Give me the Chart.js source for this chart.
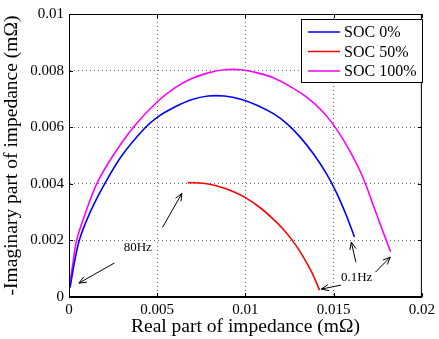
<!DOCTYPE html>
<html>
<head>
<meta charset="utf-8">
<script src="https://cdn.jsdelivr.net/npm/chart.js@4/dist/chart.umd.min.js"></script>
<style>
  html, body { margin: 0; padding: 0; background: #fff; }
  #wrap { width: 439px; height: 339px; }
</style>
</head>
<body>
<div id="wrap"><canvas id="nyquist"></canvas></div>
<script>
// real part (mΩ) and -imaginary part (mΩ)
const soc0Re = [0.00006, 0.0003, 0.00058, 0.0012, 0.00202, 0.0030, 0.0043, 0.0050, 0.00602, 0.00694, 0.00788, 0.00881, 0.00974, 0.01068, 0.01161, 0.01236, 0.0131, 0.01385, 0.01459, 0.01515, 0.01571, 0.01618];
const soc0Im = [0.00033, 0.0012, 0.0020, 0.0030, 0.0040, 0.0050, 0.00597, 0.00635, 0.00672, 0.00697, 0.0071, 0.0071, 0.00699, 0.00677, 0.00647, 0.00612, 0.00565, 0.00506, 0.00436, 0.0037, 0.0029, 0.00212];

const soc50Re = [0.00672, 0.00761, 0.00835, 0.00929, 0.0100, 0.01078, 0.01153, 0.01209, 0.01265, 0.01321, 0.01377, 0.0142];
const soc50Im = [0.00404, 0.00402, 0.00393, 0.00373, 0.00351, 0.00318, 0.00278, 0.00243, 0.00201, 0.00149, 0.00086, 0.00024];

const soc100Re = [0.00006, 0.0002, 0.00043, 0.00095, 0.00157, 0.0025, 0.00365, 0.0050, 0.00602, 0.00696, 0.00789, 0.00881, 0.00974, 0.01068, 0.01161, 0.0125, 0.01347, 0.01441, 0.01515, 0.0159, 0.01665, 0.01721, 0.01777, 0.01823];
const soc100Im = [0.00052, 0.0011, 0.0020, 0.0030, 0.0040, 0.0050, 0.0060, 0.0069, 0.0074, 0.00772, 0.00792, 0.00803, 0.00803, 0.00792, 0.00774, 0.00745, 0.00706, 0.00653, 0.00594, 0.00518, 0.00424, 0.0033, 0.00235, 0.0016];

const xTicks = [0, 0.005, 0.01, 0.015, 0.02];
const yTicks = [0, 0.002, 0.004, 0.006, 0.008, 0.01];

const seriesNames = ['SOC 0%', 'SOC 50%', 'SOC 100%'];
const seriesColors = ['#0000ff', '#ff0000', '#ff00ff'];

// annotation arrows [fromX, fromY, toX, toY] in data units
const arrows = [
  [0.00257, 0.0012, 0.00056, 0.00049],
  [0.0053, 0.00246, 0.0064, 0.00366],
  [0.01626, 0.00123, 0.0160, 0.00194],
  [0.01542, 0.00042, 0.0143, 0.00028],
  [0.01737, 0.00088, 0.01821, 0.00141]
];
const notes = [
  { text: '80Hz', x: 0.0039, y: 0.00173 },
  { text: '0.1Hz', x: 0.0163, y: 0.0007 }
];

const serif = '"Liberation Serif", "Times New Roman", serif';

const toPoints = (re, im) => re.map((x, i) => ({ x: x, y: im[i] }));
const fmt = (v) => (v === 0 ? '0' : String(parseFloat(v.toFixed(3))));

const decorations = {
  id: 'decorations',
  afterDraw(chart) {
    const { ctx, chartArea: a, scales: { x, y } } = chart;
    ctx.save();
    // box + inner tick marks
    ctx.strokeStyle = '#000';
    ctx.lineWidth = 1;
    ctx.strokeRect(a.left + 0.5, a.top + 0.5, a.right - a.left - 1, a.bottom - a.top - 1);
    ctx.beginPath();
    xTicks.forEach(v => {
      const px = Math.round(x.getPixelForValue(v)) + 0.5;
      ctx.moveTo(px, a.bottom); ctx.lineTo(px, a.bottom - 4);
      ctx.moveTo(px, a.top); ctx.lineTo(px, a.top + 4);
    });
    yTicks.forEach(v => {
      const py = Math.round(y.getPixelForValue(v)) + 0.5;
      ctx.moveTo(a.left, py); ctx.lineTo(a.left + 4, py);
      ctx.moveTo(a.right, py); ctx.lineTo(a.right - 4, py);
    });
    ctx.stroke();

    // arrows
    arrows.forEach(([x0, y0, x1, y1]) => {
      const px0 = x.getPixelForValue(x0), py0 = y.getPixelForValue(y0);
      const px1 = x.getPixelForValue(x1), py1 = y.getPixelForValue(y1);
      const ang = Math.atan2(py1 - py0, px1 - px0);
      ctx.beginPath();
      ctx.moveTo(px0, py0);
      ctx.lineTo(px1, py1);
      ctx.moveTo(px1 - 8 * Math.cos(ang - 0.4), py1 - 8 * Math.sin(ang - 0.4));
      ctx.lineTo(px1, py1);
      ctx.lineTo(px1 - 8 * Math.cos(ang + 0.4), py1 - 8 * Math.sin(ang + 0.4));
      ctx.stroke();
    });

    ctx.fillStyle = '#000';
    ctx.font = '13px ' + serif;
    ctx.textAlign = 'center';
    ctx.textBaseline = 'middle';
    notes.forEach(n => {
      ctx.fillText(n.text, x.getPixelForValue(n.x), y.getPixelForValue(n.y));
    });

    // legend box
    const lx = 301, ly = 19, lw = 121, lh = 63;
    ctx.fillStyle = '#fff';
    ctx.fillRect(lx, ly, lw, lh);
    ctx.strokeStyle = '#000';
    ctx.strokeRect(lx + 0.5, ly + 0.5, lw, lh);
    ctx.font = '16px ' + serif;
    ctx.textAlign = 'left';
    seriesNames.forEach((name, i) => {
      const ry = 32 + i * 19.5;
      ctx.strokeStyle = seriesColors[i];
      ctx.lineWidth = 1.5;
      ctx.beginPath();
      ctx.moveTo(308, ry);
      ctx.lineTo(340, ry);
      ctx.stroke();
      ctx.fillStyle = '#000';
      ctx.fillText(name, 344, ry + 1);
    });
    ctx.restore();
  }
};

new Chart(document.getElementById('nyquist'), {
  type: 'scatter',
  data: {
    datasets: [
      { label: seriesNames[0], data: toPoints(soc0Re, soc0Im), borderColor: seriesColors[0] },
      { label: seriesNames[1], data: toPoints(soc50Re, soc50Im), borderColor: seriesColors[1] },
      { label: seriesNames[2], data: toPoints(soc100Re, soc100Im), borderColor: seriesColors[2] }
    ].map(d => Object.assign(d, {
      showLine: true,
      pointRadius: 0,
      borderWidth: 1.6,
      tension: 0.3,
      backgroundColor: d.borderColor
    }))
  },
  options: {
    responsive: true,
    maintainAspectRatio: false,
    animation: false,
    layout: { padding: { top: 13, right: 12, left: 0, bottom: 0 } },
    scales: {
      x: {
        type: 'linear',
        min: 0,
        max: 0.02,
        afterBuildTicks: (s) => { s.ticks = xTicks.map(v => ({ value: v })); },
        afterFit: (s) => { s.height = 42; },
        grid: { color: '#666', drawTicks: false },
        border: { color: '#000', dash: [1, 3] },
        ticks: { color: '#000', font: { family: serif, size: 15 }, padding: 4, maxRotation: 0, callback: fmt },
        title: { display: true, text: 'Real part of impedance (mΩ)', color: '#000', font: { family: serif, size: 19.5 }, padding: { top: 0, bottom: 0 } }
      },
      y: {
        type: 'linear',
        min: 0,
        max: 0.01,
        afterBuildTicks: (s) => { s.ticks = yTicks.map(v => ({ value: v })); },
        afterFit: (s) => { s.width = 69; },
        grid: { color: '#666', drawTicks: false },
        border: { color: '#000', dash: [1, 3] },
        ticks: { color: '#000', font: { family: serif, size: 15 }, padding: 5, callback: fmt },
        title: { display: true, text: '-Imaginary part of impedance (mΩ)', color: '#000', font: { family: serif, size: 19.5 }, padding: { top: 0, bottom: 0 } }
      }
    },
    plugins: {
      legend: { display: false },
      tooltip: { enabled: false }
    }
  },
  plugins: [decorations]
});
</script>
</body>
</html>
